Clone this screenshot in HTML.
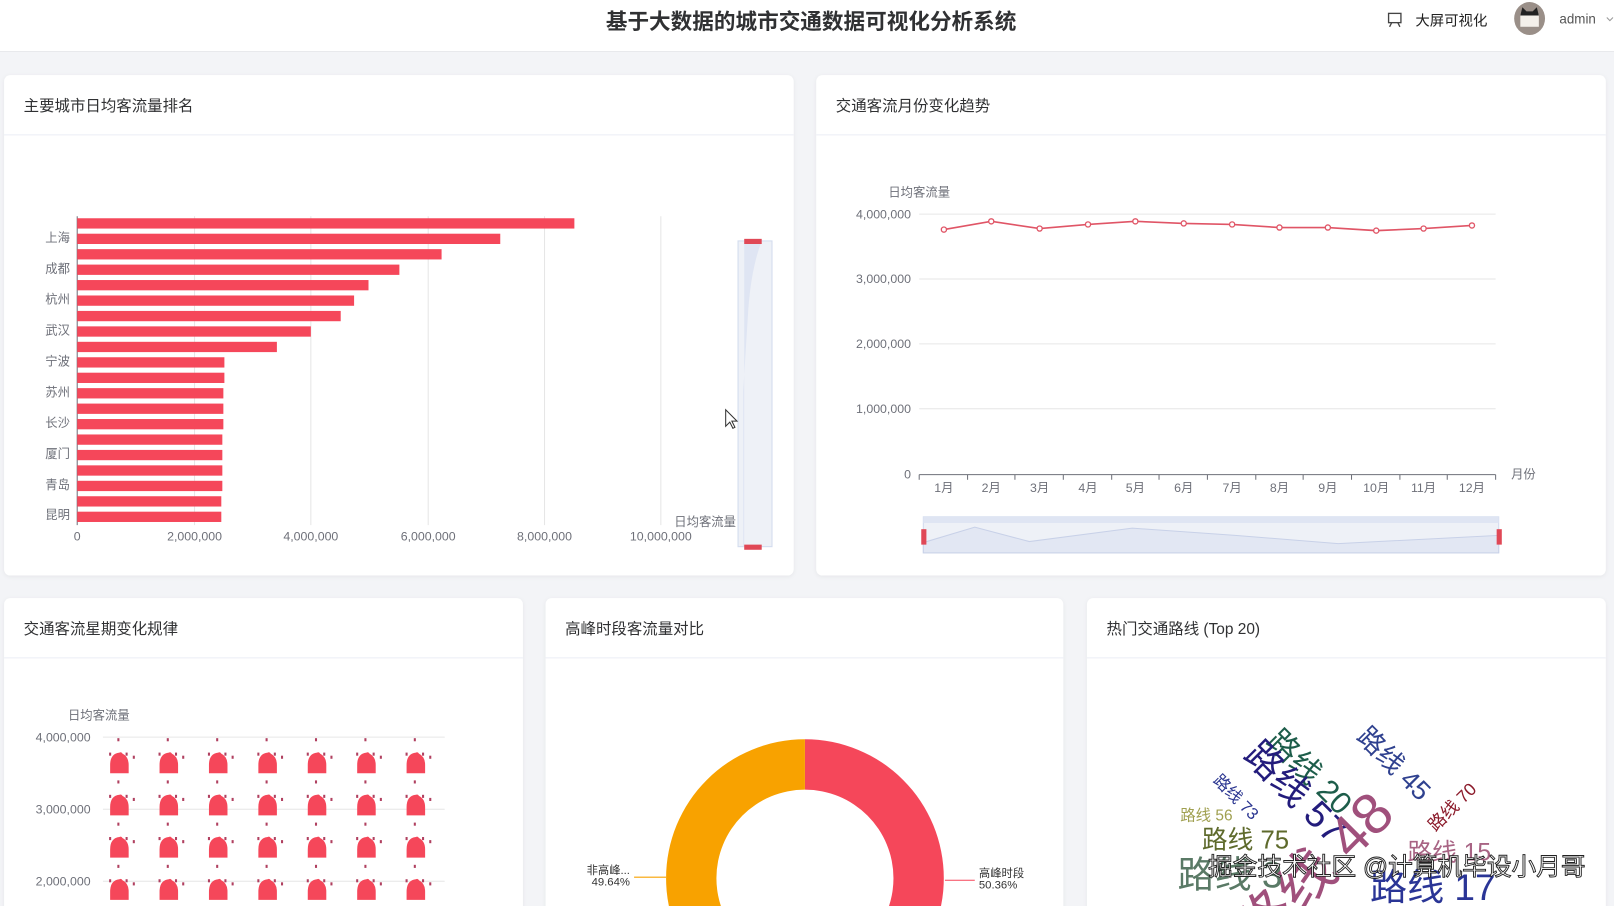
<!DOCTYPE html>
<html><head><meta charset="utf-8"><style>
html,body{margin:0;padding:0;background:#f3f4f7;overflow:hidden;width:1614px;height:906px}
svg{display:block}
text{font-family:"Liberation Sans","Noto Sans CJK SC",sans-serif}
</style></head><body>
<svg width="1614" height="906" viewBox="0 0 1568 880" preserveAspectRatio="none" xmlns="http://www.w3.org/2000/svg">
<defs>
<filter id="sh" x="-5%" y="-5%" width="110%" height="110%"><feDropShadow dx="0" dy="1" stdDeviation="2" flood-color="#000" flood-opacity="0.06"/></filter>
<clipPath id="pg"><rect x="0" y="0" width="1568" height="880"/></clipPath>
<g id="bell">
<path d="M-9 10 L-9 2 Q-9 -9 0 -10 Q2 -11 3 -9 Q9 -6 9 2 L9 10 Z" fill="#f5475a"/>
<rect x="-10" y="-10" width="2" height="3" fill="#b04060"/>
<rect x="6" y="-10" width="2" height="3" fill="#b04060"/>
<rect x="13" y="-7" width="2" height="3" fill="#b04060"/>
<rect x="-2" y="-24" width="2" height="3" fill="#b04060"/>
</g>
</defs>
<g clip-path="url(#pg)">
<rect x="0" y="0" width="1568" height="880" fill="#f3f4f7"/>
<!-- header -->
<rect x="0" y="0" width="1568" height="50" fill="#fff"/>
<line x1="0" y1="50" x2="1568" y2="50" stroke="#e8e9ec"/>
<text x="788" y="28" text-anchor="middle" font-size="21" font-weight="bold" fill="#303133">基于大数据的城市交通数据可视化分析系统</text>
<g stroke="#444" fill="none" stroke-width="1.3"><rect x="1349" y="13" width="12" height="9"/><line x1="1352" y1="22" x2="1350" y2="26"/><line x1="1358" y1="22" x2="1360" y2="26"/></g>
<text x="1375" y="25" font-size="14" fill="#222">大屏可视化</text>
<ellipse cx="1486" cy="18" rx="15" ry="16" fill="#9a8f88"/>
<rect x="1477" y="14" width="18" height="12" fill="#f4f0ea"/>
<path d="M1477 15 L1479 7 L1483 11 L1489 11 L1493 7 L1495 15 Z" fill="#222"/>
<text x="1515" y="23" font-size="13" fill="#555">admin</text>
<path d="M1561 17 l3 3 l3 -3" stroke="#999" fill="none"/>

<!-- cards -->
<g filter="url(#sh)" fill="#fff">
<rect x="4" y="73" width="767" height="486" rx="6"/>
<rect x="793" y="73" width="767" height="486" rx="6"/>
<rect x="4" y="581" width="504" height="320" rx="6"/>
<rect x="530" y="581" width="503" height="320" rx="6"/>
<rect x="1056" y="581" width="504" height="320" rx="6"/>
</g>
<g stroke="#ebeef5"><line x1="4" y1="131" x2="771" y2="131"/><line x1="793" y1="131" x2="1560" y2="131"/>
<line x1="4" y1="639" x2="508" y2="639"/><line x1="530" y1="639" x2="1033" y2="639"/><line x1="1056" y1="639" x2="1560" y2="639"/></g>
<g font-size="15" fill="#303133">
<text x="23" y="108">主要城市日均客流量排名</text>
<text x="812" y="108">交通客流月份变化趋势</text>
<text x="23" y="616">交通客流星期变化规律</text>
<text x="549" y="616">高峰时段客流量对比</text>
<text x="1075" y="616">热门交通路线 (Top 20)</text>
</g>

<!-- bar chart -->
<g stroke="#e6e6e6"><line x1="189" y1="210" x2="189" y2="510"/><line x1="302" y1="210" x2="302" y2="510"/><line x1="416" y1="210" x2="416" y2="510"/><line x1="529" y1="210" x2="529" y2="510"/><line x1="642" y1="210" x2="642" y2="510"/></g>
<line x1="75" y1="210" x2="75" y2="510" stroke="#6e7079"/>
<g fill="#f5475a">
<rect x="75" y="212" width="483" height="10"/><rect x="75" y="227" width="411" height="10"/><rect x="75" y="242" width="354" height="10"/><rect x="75" y="257" width="313" height="10"/><rect x="75" y="272" width="283" height="10"/><rect x="75" y="287" width="269" height="10"/><rect x="75" y="302" width="256" height="10"/><rect x="75" y="317" width="227" height="10"/><rect x="75" y="332" width="194" height="10"/><rect x="75" y="347" width="143" height="10"/><rect x="75" y="362" width="143" height="10"/><rect x="75" y="377" width="142" height="10"/><rect x="75" y="392" width="142" height="10"/><rect x="75" y="407" width="142" height="10"/><rect x="75" y="422" width="141" height="10"/><rect x="75" y="437" width="141" height="10"/><rect x="75" y="452" width="141" height="10"/><rect x="75" y="467" width="141" height="10"/><rect x="75" y="482" width="140" height="10"/><rect x="75" y="497" width="140" height="10"/>
</g>
<g font-size="12" fill="#6e7079" text-anchor="end">
<text x="68" y="235">上海</text><text x="68" y="265">成都</text><text x="68" y="295">杭州</text><text x="68" y="325">武汉</text><text x="68" y="355">宁波</text><text x="68" y="385">苏州</text><text x="68" y="415">长沙</text><text x="68" y="445">厦门</text><text x="68" y="475">青岛</text><text x="68" y="504">昆明</text>
</g>
<g font-size="12" fill="#6e7079" text-anchor="middle">
<text x="75" y="525">0</text><text x="189" y="525">2,000,000</text><text x="302" y="525">4,000,000</text><text x="416" y="525">6,000,000</text><text x="529" y="525">8,000,000</text><text x="642" y="525">10,000,000</text>
</g>
<text x="715" y="511" font-size="12" fill="#6e7079" text-anchor="end">日均客流量</text>
<rect x="717" y="234" width="33" height="297" fill="#eef1f7" stroke="#d2dbee"/>
<path d="M723 234 L740 234 Q730 260 727 300 L722 380 L722 531 L723 531 Z" fill="#dfe5f3"/>
<rect x="723" y="232" width="17" height="5" fill="#e04856"/><rect x="723" y="529" width="17" height="5" fill="#e04856"/>
<path d="M705 398 l0 16 l4 -4 l3 6 l2 -1 l-3 -6 l5 0 z" fill="#fff" stroke="#333"/>

<!-- line chart -->
<g stroke="#e6e6e6"><line x1="893" y1="208" x2="1453" y2="208"/><line x1="893" y1="271" x2="1453" y2="271"/><line x1="893" y1="334" x2="1453" y2="334"/><line x1="893" y1="397" x2="1453" y2="397"/></g>
<line x1="893" y1="461" x2="1453" y2="461" stroke="#6e7079"/>
<g stroke="#6e7079"><line x1="893" y1="461" x2="893" y2="466"/><line x1="940" y1="461" x2="940" y2="466"/><line x1="986" y1="461" x2="986" y2="466"/><line x1="1033" y1="461" x2="1033" y2="466"/><line x1="1080" y1="461" x2="1080" y2="466"/><line x1="1126" y1="461" x2="1126" y2="466"/><line x1="1173" y1="461" x2="1173" y2="466"/><line x1="1220" y1="461" x2="1220" y2="466"/><line x1="1266" y1="461" x2="1266" y2="466"/><line x1="1313" y1="461" x2="1313" y2="466"/><line x1="1360" y1="461" x2="1360" y2="466"/><line x1="1406" y1="461" x2="1406" y2="466"/><line x1="1453" y1="461" x2="1453" y2="466"/></g>
<g font-size="12" fill="#6e7079" text-anchor="end">
<text x="885" y="212">4,000,000</text><text x="885" y="275">3,000,000</text><text x="885" y="338">2,000,000</text><text x="885" y="401">1,000,000</text><text x="885" y="465">0</text>
</g>
<text x="893" y="191" font-size="12" fill="#6e7079" text-anchor="middle">日均客流量</text>
<text x="1468" y="465" font-size="12" fill="#6e7079">月份</text>
<g font-size="12" fill="#6e7079" text-anchor="middle">
<text x="917" y="478">1月</text><text x="963" y="478">2月</text><text x="1010" y="478">3月</text><text x="1057" y="478">4月</text><text x="1103" y="478">5月</text><text x="1150" y="478">6月</text><text x="1197" y="478">7月</text><text x="1243" y="478">8月</text><text x="1290" y="478">9月</text><text x="1337" y="478">10月</text><text x="1383" y="478">11月</text><text x="1430" y="478">12月</text>
</g>
<polyline fill="none" stroke="#e05566" stroke-width="1.6" points="917,223 963,215 1010,222 1057,218 1103,215 1150,217 1197,218 1243,221 1290,221 1337,224 1383,222 1430,219"/>
<g fill="#fff" stroke="#e05566" stroke-width="1.3">
<circle cx="917" cy="223" r="2.5"/><circle cx="963" cy="215" r="2.5"/><circle cx="1010" cy="222" r="2.5"/><circle cx="1057" cy="218" r="2.5"/><circle cx="1103" cy="215" r="2.5"/><circle cx="1150" cy="217" r="2.5"/><circle cx="1197" cy="218" r="2.5"/><circle cx="1243" cy="221" r="2.5"/><circle cx="1290" cy="221" r="2.5"/><circle cx="1337" cy="224" r="2.5"/><circle cx="1383" cy="222" r="2.5"/><circle cx="1430" cy="219" r="2.5"/>
</g>
<rect x="897" y="502" width="559" height="35" fill="#eef1f7" stroke="#d2dbee"/>
<rect x="897" y="502" width="559" height="6" fill="#dfe5f3"/>
<path d="M897 537 L897 527 L947 512 L1000 526 L1100 513 L1200 520 L1300 528 L1456 520 L1456 537 Z" fill="#e2e7f3" stroke="#c8d1e8"/>
<rect x="895" y="514" width="5" height="15" fill="#e04856"/><rect x="1454" y="514" width="5" height="15" fill="#e04856"/>

<!-- pictorial -->
<g stroke="#e6e6e6"><line x1="100" y1="716" x2="432" y2="716"/><line x1="100" y1="786" x2="432" y2="786"/><line x1="100" y1="856" x2="432" y2="856"/></g>
<g font-size="12" fill="#6e7079" text-anchor="end">
<text x="88" y="720">4,000,000</text><text x="88" y="790">3,000,000</text><text x="88" y="860">2,000,000</text>
</g>
<text x="96" y="699" font-size="12" fill="#6e7079" text-anchor="middle">日均客流量</text>
<g>
<use href="#bell" x="116" y="741"/><use href="#bell" x="164" y="741"/><use href="#bell" x="212" y="741"/><use href="#bell" x="260" y="741"/><use href="#bell" x="308" y="741"/><use href="#bell" x="356" y="741"/><use href="#bell" x="404" y="741"/>
<use href="#bell" x="116" y="782"/><use href="#bell" x="164" y="782"/><use href="#bell" x="212" y="782"/><use href="#bell" x="260" y="782"/><use href="#bell" x="308" y="782"/><use href="#bell" x="356" y="782"/><use href="#bell" x="404" y="782"/>
<use href="#bell" x="116" y="823"/><use href="#bell" x="164" y="823"/><use href="#bell" x="212" y="823"/><use href="#bell" x="260" y="823"/><use href="#bell" x="308" y="823"/><use href="#bell" x="356" y="823"/><use href="#bell" x="404" y="823"/>
<use href="#bell" x="116" y="864"/><use href="#bell" x="164" y="864"/><use href="#bell" x="212" y="864"/><use href="#bell" x="260" y="864"/><use href="#bell" x="308" y="864"/><use href="#bell" x="356" y="864"/><use href="#bell" x="404" y="864"/>
</g>

<!-- donut -->
<path d="M782 718 A135 135 0 0 1 782 988 L782 939 A86 86 0 0 0 782 767 Z" fill="#f5475a"/>
<path d="M782 718 A135 135 0 0 0 782 988 L782 939 A86 86 0 0 1 782 767 Z" fill="#f8a200"/>
<line x1="616" y1="852" x2="647" y2="852" stroke="#f8a200"/>
<line x1="918" y1="855" x2="947" y2="855" stroke="#f5475a"/>
<g font-size="11" fill="#333">
<text x="612" y="849" text-anchor="end">非高峰...</text><text x="612" y="860" text-anchor="end">49.64%</text>
<text x="951" y="852">高峰时段</text><text x="951" y="863">50.36%</text>
</g>

<!-- word cloud -->
<g>
<text transform="translate(1348,748) rotate(45)" text-anchor="middle" font-size="26" fill="#2f418f">路线 45</text>
<text transform="translate(1265,757) rotate(45)" text-anchor="middle" font-size="30" fill="#1d5d4a">路线 20</text>
<text transform="translate(1250,778) rotate(45)" text-anchor="middle" font-size="36" fill="#231c7c">路线 57</text>
<text transform="translate(1197,778) rotate(45)" text-anchor="middle" font-size="16" fill="#2a3590">路线 73</text>
<text transform="translate(1415,788) rotate(-45)" text-anchor="middle" font-size="17" fill="#8b1a2a">路线 70</text>
<text x="1172" y="797" text-anchor="middle" font-size="15" fill="#a0a050">路线 56</text>
<text x="1210" y="824" text-anchor="middle" font-size="25" fill="#5e6a2c">路线 75</text>
<text transform="translate(1290,860) rotate(-45)" text-anchor="middle" font-size="56" fill="#a0507c">路线 48</text>
<text x="1408" y="836" text-anchor="middle" font-size="24" fill="#a86484">路线 15</text>
<text x="1392" y="874" text-anchor="middle" font-size="36" fill="#2a3596">路线 17</text>
<text x="1195" y="862" text-anchor="middle" font-size="36" fill="#5a7a66">路线 3</text>
<text x="1357" y="850" text-anchor="middle" font-size="24" fill="#fff" stroke="#222" stroke-width="0.9">掘金技术社区 @计算机毕设小月哥</text>
</g>
</g>
</svg>
</body></html>
